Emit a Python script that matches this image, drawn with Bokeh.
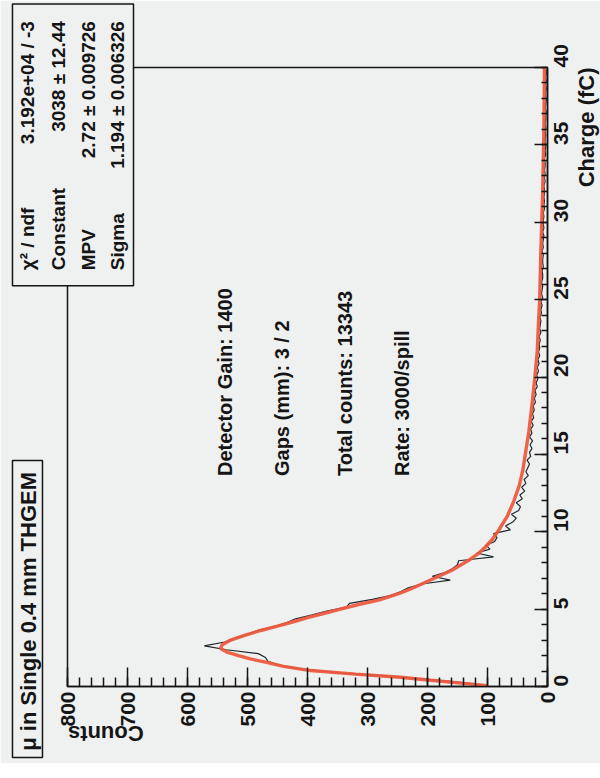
import math
import numpy as np
from bokeh.plotting import figure
from bokeh.models import Range1d, SingleIntervalTicker
from bokeh.core.properties import value
from bokeh.embed import file_html
from bokeh.resources import INLINE

# ---- data ----
# Landau fit curve (charge in fC, counts)
fit_charge = [0.05, 0.2, 0.4, 0.6, 0.8, 1.03, 1.3, 1.57, 1.8, 2.0, 2.2, 2.45, 2.7, 3.0,
              3.3, 3.62, 3.9, 4.2, 4.45, 4.7, 5.0, 5.3, 5.6, 6.0, 6.3, 6.7, 7.06, 7.5,
              8.14, 8.6, 9.0, 9.5, 10.0, 10.5, 11.0, 12.0, 13.0, 14.0, 15.25, 16.5,
              18.5, 20.0, 21.7, 23.5, 25.0, 28.2, 32.0, 36.0, 40.0]
fit_counts = [100, 140, 195, 245, 320, 395, 440, 470, 497, 515, 533, 545, 542, 528,
              505, 478, 450, 422, 400, 375, 345, 315, 280, 248, 228, 205, 185, 160,
              132, 115, 104, 92, 83, 75, 67, 56, 47, 41, 36, 31,
              25, 21, 17, 15, 13, 11, 8, 6, 5]

# Histogram, bins of 0.25 fC from 0 to 40
bin_width = 0.25
hist_counts = [
    110, 175, 250, 345, 410, 446, 466, 470, 482, 535, 572, 538, 520, 500, 482, 455,
    434, 420, 392, 368, 335, 330, 292, 262, 245, 232, 210, 162, 192, 170, 158, 150,
    148, 90, 118, 96, 102, 88, 84, 90, 62, 70, 58, 52, 60, 48, 45, 52,
    42, 46, 38, 43, 36, 39, 32, 36, 33, 30, 34, 28, 30, 26, 29, 25,
    30, 26, 28, 24, 27, 23, 25, 22, 24, 20, 22, 19, 21, 17, 19, 16,
    18, 15, 17, 14, 16, 13, 15, 13, 14, 12, 14, 11, 13, 12, 11, 13,
    10, 11, 9, 11, 8, 10, 9, 8, 10, 8, 8, 9, 7, 8, 8, 7,
    9, 7, 8, 7, 6, 8, 6, 7, 7, 6, 7, 5, 6, 5, 6, 5,
    5, 6, 4, 5, 4, 5, 4, 4, 5, 3, 4, 3, 4, 4, 3, 4,
    3, 4, 3, 3, 2, 4, 3, 2, 3, 3, 2, 3, 2, 3, 2, 2,
]

count_ticks_interval = 100
charge_ticks_interval = 5

title_text = "\u03bc in Single 0.4 mm THGEM"
stat_names = ["\u03c7\u00b2 / ndf", "Constant", "MPV", "Sigma"]
stat_values = ["3.192e+04 / -3", "3038 \u00b1 12.44", "2.72 \u00b1 0.009726", "1.194 \u00b1 0.006326"]
info_lines = ["Detector Gain: 1400", "Gaps (mm): 3 / 2", "Total counts: 13343", "Rate: 3000/spill"]
x_title = "Counts"
y_title = "Charge (fC)"

# ---- styling ----
BG = "#eff0f0"
INK = "#151515"
FONT = "Liberation Sans"

bin_centers = (np.arange(len(hist_counts)) + 0.5) * bin_width

p = figure(width=600, height=763, x_range=Range1d(800, 0), y_range=Range1d(0, 40),
           output_backend="svg", toolbar_location=None,
           x_axis_location="below", y_axis_location="right",
           min_border_left=67, min_border_right=53, min_border_top=67, min_border_bottom=77)
p.background_fill_color = BG
p.border_fill_color = BG
p.outline_line_color = INK
p.outline_line_width = 1.5
p.xgrid.visible = False
p.ygrid.visible = False

xa = p.xaxis[0]
xa.ticker = SingleIntervalTicker(interval=count_ticks_interval, num_minor_ticks=5)
xa.major_tick_in = 19
xa.major_tick_out = 0
xa.minor_tick_in = 9
xa.minor_tick_out = 0
xa.major_label_orientation = math.pi / 2
xa.major_label_standoff = 5
xa.major_label_text_font = FONT
xa.major_label_text_font_style = "bold"
xa.major_label_text_font_size = "21px"
xa.major_label_text_color = INK
xa.axis_line_color = INK
xa.axis_line_width = 1.5
xa.major_tick_line_color = INK
xa.minor_tick_line_color = INK
xa.major_tick_line_width = 1.5
xa.minor_tick_line_width = 1.5

ya = p.yaxis[0]
ya.ticker = SingleIntervalTicker(interval=charge_ticks_interval, num_minor_ticks=5)
ya.major_tick_in = 13
ya.major_tick_out = 0
ya.minor_tick_in = 6
ya.minor_tick_out = 0
ya.major_label_orientation = math.pi / 2
ya.major_label_standoff = 13
ya.major_label_text_font = FONT
ya.major_label_text_font_style = "bold"
ya.major_label_text_font_size = "21px"
ya.major_label_text_color = INK
ya.axis_line_color = INK
ya.axis_line_width = 1.5
ya.major_tick_line_color = INK
ya.minor_tick_line_color = INK
ya.major_tick_line_width = 1.5
ya.minor_tick_line_width = 1.5

# histogram and fit
p.line(hist_counts, bin_centers, line_color="#1c2a2e", line_width=1.2)
p.line(fit_counts, fit_charge, line_color="#ec5a3e", line_width=3.4, line_alpha=0.95)


def texts(xs, ys, strs, size, align, angle=math.pi / 2):
    p.text(x=xs, y=ys, text=strs, angle=angle, text_align=align, text_baseline="middle",
           text_font=value(FONT), text_font_style="bold", text_font_size=size,
           text_color=INK, level="overlay")


# stats box (drawn at overlay level so it can extend past the frame)
p.quad(left=[891.7], right=[690.0], bottom=[25.9], top=[44.1],
       fill_color=BG, line_color=INK, line_width=1.5, level="overlay")
stat_x = [866.7, 815.0, 765.0, 716.7]
texts(stat_x, [26.9] * 4, stat_names, "19px", "left")
texts(stat_x, [43.0] * 4, stat_values, "19px", "right")

# title box
p.quad(left=[891.7], right=[841.7], bottom=[-4.59], top=[14.6],
       fill_color=BG, line_color=INK, line_width=1.5, level="overlay")
texts([865.0], [-4.15], [title_text], "22px", "left")

# info texts
info_x = [536.7, 443.3, 338.3, 243.3]
texts(info_x, [13.6] * 4, info_lines, "20px", "left")

# axis titles
texts([-65.0], [40.0], [y_title], "22px", "right")
texts([673.0], [-3.05], [x_title], "22px", "left", angle=math.pi)

open("out.html", "w").write(file_html(p, INLINE))
